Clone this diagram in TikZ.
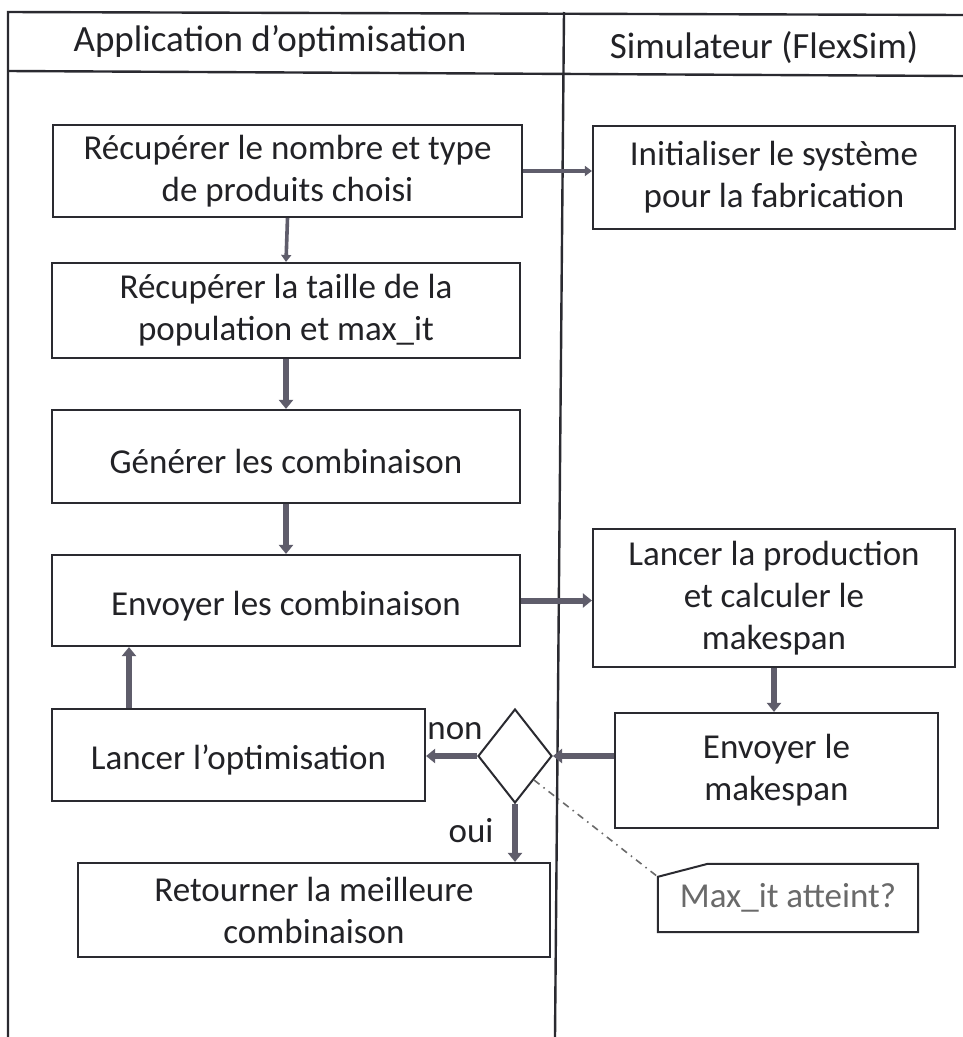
\documentclass[tikz,border=0pt]{standalone}
\usepackage{fontspec}
\setmainfont{Carlito}
\usetikzlibrary{arrows.meta,shapes.geometric,calc}
\definecolor{ink}{HTML}{222226}
\definecolor{rule}{HTML}{2A2A30}
\definecolor{arrowgray}{HTML}{5F5D6B}
\definecolor{notegray}{HTML}{6A6A6A}
\begin{document}
\begin{tikzpicture}[x=1pt,y=-1pt,
  every node/.style={font=\fontsize{35}{42}\selectfont, text=ink},
  stepbox/.style={draw=rule, line width=2.2pt, fill=white, align=center, inner sep=0pt,
    execute at begin node=\rule{0pt}{35pt}},
  headtext/.style={font=\fontsize{37}{44}\selectfont},
  lane/.style={draw=rule, line width=2.4pt},
  flow/.style={draw=arrowgray, line width=6pt, -{Triangle[length=9pt,width=14pt]}},
  thinflow/.style={draw=arrowgray, line width=3.6pt, -{Triangle[length=7pt,width=10pt]}},
  pointer/.style={draw=notegray, line width=1.6pt, dash pattern=on 7pt off 5pt on 1.5pt off 5pt}]
\useasboundingbox (0,0) rectangle (963,1037);
\fill[white] (0,0) rectangle (963,1037);

% swimlane frame
\draw[lane] (963,15) -- (8,12) -- (8,1037);
\draw[lane] (8,71) -- (963,76);
\draw[lane] (564,12) -- (555,1037);
\node[headtext] (hA) at (270,41) {Application d’optimisation};
\node[headtext] (hS) at (764,48) {Simulateur (FlexSim)};

% process steps
\node[stepbox, minimum width=469pt, minimum height=92pt] (b1) at (287.5,171) {Récupérer le nombre et type\\de produits choisi};
\node[stepbox, minimum width=362pt, minimum height=103pt] (b2) at (774,177.5) {Initialiser le système\\pour la fabrication};
\node[stepbox, minimum width=468pt, minimum height=95pt] (b3) at (286,310.5) {Récupérer la taille de la\\population et max\_it};
\node[stepbox, minimum width=468pt, minimum height=93pt] (b4) at (286,456.5) {Générer les combinaison};
\node[stepbox, minimum width=468pt, minimum height=91pt] (b5) at (286,600.5) {Envoyer les combinaison};
\node[stepbox, minimum width=362pt, minimum height=138pt] (b6) at (774,598) {Lancer la production\\et calculer le\\makespan};
\node[stepbox, minimum width=373pt, minimum height=92pt] (b7) at (238.5,755) {Lancer l’optimisation};
\node[stepbox, minimum width=323pt, minimum height=115pt] (b9) at (776.5,770.5) {Envoyer le\\makespan};
\node[stepbox, minimum width=472pt, minimum height=94pt] (b10) at (314,910) {Retourner la meilleure\\combinaison};

% decision
\node[draw=rule, line width=2pt, diamond, minimum width=74pt, minimum height=94pt, inner sep=0pt] (d) at (515,756) {};
\node (non) at (455,731) {non};
\node (oui) at (471,831) {oui};

% note
\node[minimum width=260pt, minimum height=68pt, inner sep=0pt, text=notegray] (note) at (788,898) {Max\_it atteint?};
\draw[draw=rule, line width=2pt] (note.south west) -- ($(note.north west)+(0,13)$) coordinate (notecorner)
  -- ($(note.north west)+(50,0)$) -- (note.north east) -- (note.south east) -- cycle;
\draw[pointer] (d.south east) -- (notecorner);

% connectors
\draw[thinflow] (b1.east) -- (b1.east -| b2.west);
\draw[thinflow] (b1.south) -- (b3.north);
\draw[flow] (b3.south) -- (b4.north);
\draw[flow] (b4.south) -- (b5.north);
\draw[flow] (b5.east) -- (b5.east -| b6.west);
\draw[flow] (b6.south) -- (b6.south |- b9.north);
\draw[flow] (d.east -| b9.west) -- (d.east);
\draw[flow] (d.west) -- (d.west -| b7.east);
\draw[flow] (d.south) -- (d.south |- b10.north);
\draw[flow] (b7.north -| 129,0) -- (b5.south -| 129,0);
\end{tikzpicture}
\end{document}
